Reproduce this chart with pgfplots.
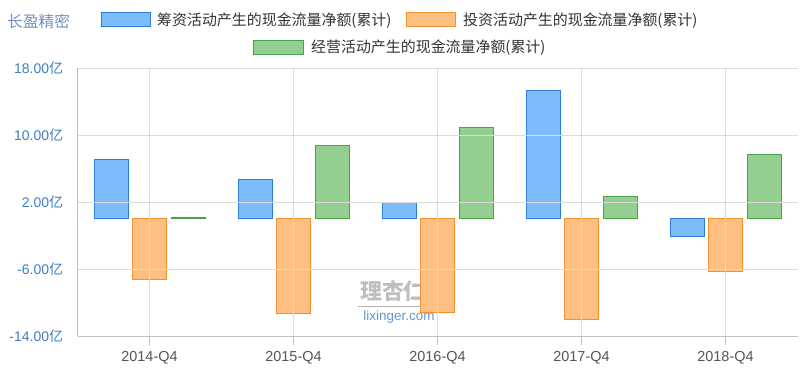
\documentclass[border=0pt]{standalone}
\usepackage{pgfplots}
\pgfplotsset{compat=1.18}
\usepackage{fontspec}
\setmainfont{Liberation Sans}
\newfontfamily\cjk{Noto Sans CJK SC}
\definecolor{bluef}{HTML}{7DBCFA}
\definecolor{bluel}{HTML}{2C7FD8}
\definecolor{orangef}{HTML}{FFBF82}
\definecolor{orangel}{HTML}{EF922F}
\definecolor{greenf}{HTML}{93CF90}
\definecolor{greenl}{HTML}{4CA24C}
\definecolor{ytickc}{HTML}{3F7DBF}
\definecolor{xtickc}{HTML}{555555}
\definecolor{gridc}{HTML}{DCDCDC}
\definecolor{axisc}{HTML}{BFBFBF}
\definecolor{titlec}{HTML}{7090BD}
\definecolor{legc}{HTML}{333333}
\begin{document}
\begin{tikzpicture}[x=1bp,y=1bp]
\useasboundingbox (0,0) rectangle (800,375);
% title
\node[anchor=base west, inner sep=0, text=titlec, font=\cjk\fontsize{15.8}{16}\selectfont] at (7,348) {长盈精密};
% legend
\filldraw[fill=bluef, draw=bluel, line width=1bp] (101,348) rectangle (150,362);
\node[anchor=base west, inner sep=0, text=legc, font=\cjk\fontsize{15}{16}\selectfont] at (157,350) {筹资活动产生的现金流量净额(累计)};
\filldraw[fill=orangef, draw=orangel, line width=1bp] (406,348) rectangle (455,362);
\node[anchor=base west, inner sep=0, text=legc, font=\cjk\fontsize{15}{16}\selectfont] at (463,350) {投资活动产生的现金流量净额(累计)};
\filldraw[fill=greenf, draw=greenl, line width=1bp] (253,321) rectangle (303,335);
\node[anchor=base west, inner sep=0, text=legc, font=\cjk\fontsize{15}{16}\selectfont] at (311,323) {经营活动产生的现金流量净额(累计)};
% watermark
\node[text=black!25, font=\cjk\bfseries\fontsize{22}{22}\selectfont] at (393,84) {理杏仁};
\draw[black!30, line width=0.6bp] (358,69) -- (428,69);
\node[text=ytickc!80, font=\fontsize{13.5}{14}\selectfont] at (399,58) {lixinger.com};
\begin{axis}[
  at={(77.5bp,39bp)}, anchor=south west,
  scale only axis, width=720bp, height=268bp,
  xmin=-0.5, xmax=4.5, ymin=-14, ymax=18,
  ytick={-14,-6,2,10,18},
  xtick={0,1,2,3,4},
  xticklabels={2014-Q4,2015-Q4,2016-Q4,2017-Q4,2018-Q4},
  /pgf/number format/assume math mode=true,
  yticklabel={\pgfmathprintnumber[fixed,fixed zerofill,precision=2]{\tick}{\cjk 亿}},
  yticklabel style={text=ytickc, font=\fontsize{14}{14}\selectfont, xshift=-2bp},
  xticklabel style={text=xtickc, font=\fontsize{14.5}{15}\selectfont, yshift=-3bp},
  axis lines*=left,
  axis line style={axisc, line width=0.8bp},
  xmajorgrids, ymajorgrids,
  grid style={gridc, line width=0.8bp},
  tick align=outside,
  xtick style={axisc, line width=0.8bp},
  major tick length=9bp,
  ytick style={draw=none},
  ybar=4.5bp, bar width=34bp,
  axis on top,
  clip=false,
]
\addplot[fill=bluef, draw=bluel, line width=1bp] coordinates {(0,7.1) (1,4.7) (2,1.9) (3,15.3) (4,-2.15)};
\addplot[fill=orangef, draw=orangel, line width=1bp] coordinates {(0,-7.25) (1,-11.27) (2,-11.2) (3,-12.06) (4,-6.33)};
\addplot[fill=greenf, draw=greenl, line width=1bp] coordinates {(0,0.2) (1,8.75) (2,10.85) (3,2.66) (4,7.64)};
\end{axis}
\end{tikzpicture}
\end{document}
